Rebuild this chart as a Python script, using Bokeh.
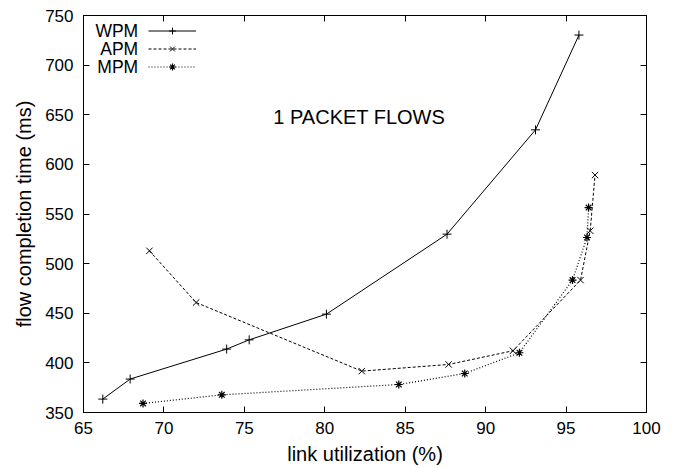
from bokeh.plotting import figure
from bokeh.models import (Range1d, LinearAxis, FixedTicker, Legend, LegendItem,
                          Label)
from bokeh.embed import file_html
from bokeh.resources import INLINE

# ---- data ----
wpm_util = [66.2, 67.9, 73.9, 75.3, 80.1, 87.6, 93.1, 95.8]
wpm_time = [363.5, 383.7, 413.9, 423.2, 449.1, 529.7, 634.8, 730.3]

apm_util = [69.1, 72.0, 82.3, 87.7, 91.7, 95.9, 96.5, 96.8]
apm_time = [512.9, 460.8, 391.7, 398.4, 412.2, 483.4, 533.1, 589.2]

mpm_util = [68.7, 73.6, 84.6, 88.7, 92.1, 95.4, 96.3, 96.4]
mpm_time = [359.1, 367.8, 378.2, 389.3, 410.2, 483.4, 526.3, 556.5]

series_names = ["WPM", "APM", "MPM"]
x_ticks = [65, 70, 75, 80, 85, 90, 95, 100]
y_ticks = [350, 400, 450, 500, 550, 600, 650, 700, 750]
x_title = "link utilization (%)"
y_title = "flow completion time (ms)"
note_text = "1 PACKET FLOWS"

FONT = "Liberation Sans"

p = figure(width=675, height=468, output_backend="svg", toolbar_location=None,
           x_range=Range1d(65, 100), y_range=Range1d(350, 750),
           min_border_left=83, min_border_right=29, min_border_top=15,
           min_border_bottom=56)
p.xgrid.visible = False
p.ygrid.visible = False
p.outline_line_color = "black"
p.outline_line_width = 1
p.background_fill_color = "white"
p.border_fill_color = "white"

def style_axis(ax, ticks, show_labels):
    ax.ticker = FixedTicker(ticks=ticks)
    ax.major_tick_in = 6
    ax.major_tick_out = 0
    ax.minor_tick_line_color = None
    ax.axis_line_color = "black"
    ax.major_tick_line_color = "black"
    ax.major_label_text_font = FONT
    ax.major_label_text_font_size = "17px"
    ax.major_label_text_color = "black"
    ax.axis_label_text_font = FONT
    ax.axis_label_text_font_size = "20px"
    ax.axis_label_text_font_style = "normal"
    ax.axis_label_text_color = "black"
    if not show_labels:
        ax.major_label_text_font_size = "0px"
        ax.major_label_text_color = None

bx = p.xaxis[0]
style_axis(bx, x_ticks, True)
bx.axis_label = x_title
bx.major_label_standoff = 9
bx.axis_label_standoff = 6

ly = p.yaxis[0]
style_axis(ly, y_ticks, True)
ly.axis_label = y_title
ly.major_label_standoff = 10
ly.axis_label_standoff = 7

top_ax = LinearAxis()
style_axis(top_ax, x_ticks, False)
p.add_layout(top_ax, "above")
right_ax = LinearAxis()
style_axis(right_ax, y_ticks, False)
p.add_layout(right_ax, "right")

# ---- series ----
l1 = p.line(wpm_util, wpm_time, line_color="black", line_width=1)
m1 = p.scatter(wpm_util, wpm_time, marker="cross", size=9, line_color="black", line_width=1)
l2 = p.line(apm_util, apm_time, line_color="black", line_width=1, line_dash="3 2")
m2 = p.scatter(apm_util, apm_time, marker="x", size=9, line_color="black", line_width=1)
l3 = p.line(mpm_util, mpm_time, line_color="black", line_width=1.2, line_dash="1 2")
m3 = p.scatter(mpm_util, mpm_time, marker="asterisk", size=8, line_color="black", line_width=1.2)

# legend glyphs (labels drawn separately, right-aligned to the left of the glyphs)
legend = Legend(items=[LegendItem(label=" ", renderers=[l1, m1]),
                       LegendItem(label=" ", renderers=[l2, m2]),
                       LegendItem(label=" ", renderers=[l3, m3])],
                location=(65, 337), glyph_width=48, glyph_height=17,
                label_height=17, spacing=1, padding=0, margin=0,
                label_standoff=0, border_line_color=None,
                background_fill_alpha=0, label_text_font_size="1px")
p.add_layout(legend, "center")

legend_y = [733.9, 715.8, 697.7]
for name, yv in zip(series_names, legend_y):
    p.add_layout(Label(x=68.4, y=yv, text=name, text_align="right",
                       text_baseline="middle", text_font=FONT,
                       text_font_size="17.5px", text_color="black"))

p.add_layout(Label(x=76.8, y=648, text=note_text, text_align="left",
                   text_baseline="middle", text_font=FONT,
                   text_font_size="20px", text_color="black"))

open("out.html", "w").write(file_html(p, INLINE))
